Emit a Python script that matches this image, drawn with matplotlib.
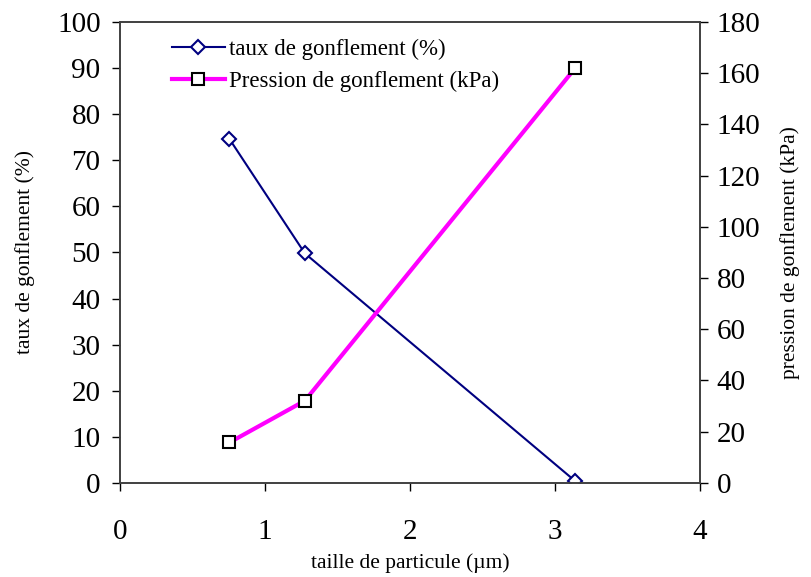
import matplotlib
matplotlib.use("Agg")
import matplotlib.pyplot as plt

plt.rcParams['font.family'] = ['Liberation Serif', 'DejaVu Serif']

particle_size = [0.755, 1.275, 3.14]
taux_gonflement = [74.6, 49.8, 0.4]
pression_gonflement = [15.8, 32.1, 162.0]

x_ticks = [0, 1, 2, 3, 4]
y1_ticks = list(range(0, 101, 10))
y2_ticks = list(range(0, 181, 20))

fig = plt.figure(figsize=(8.11, 5.77), dpi=100)
ax = fig.add_axes([0.148, 0.163, 0.715, 0.799])
ax2 = ax.twinx()

l1, = ax.plot(particle_size, taux_gonflement, color='#000080', lw=1.5,
              marker='D', markersize=7, markerfacecolor='white',
              markeredgecolor='#000080', markeredgewidth=1.5,
              label='taux de gonflement (%)')
l2, = ax2.plot(particle_size, pression_gonflement, color='#FF00FF', lw=3,
               marker='s', markersize=8, markerfacecolor='white',
               markeredgecolor='black', markeredgewidth=1.5,
               label='Pression de gonflement (kPa)')

ax.set_xlim(0, 4)
ax.set_ylim(0, 100)
ax2.set_ylim(0, 180)
ax.set_xticks(x_ticks)
ax.set_yticks(y1_ticks)
ax2.set_yticks(y2_ticks)

for a in (ax, ax2):
    a.tick_params(direction='out', length=6, width=1, labelsize=21, colors='black')
    for s in a.spines.values():
        s.set_color('#404040')
        s.set_linewidth(1.2)
ax.tick_params(axis='x', pad=20)
ax.tick_params(axis='y', pad=8)
ax2.tick_params(axis='y', pad=6)

ax.set_xlabel('taille de particule (µm)', fontsize=15.5, labelpad=6)
ax.set_ylabel('taux de gonflement (%)', fontsize=15.5, labelpad=16)
ax2.set_ylabel('pression de gonflement (kPa)', fontsize=15.5, labelpad=14)

ax.legend(handles=[l1, l2], loc='upper left', bbox_to_anchor=(0.06, 1.0),
          frameon=False, fontsize=16.5, handlelength=2.3, handletextpad=0.2,
          labelspacing=0.45, borderaxespad=0.35)

fig.savefig('out.png', dpi=100)
